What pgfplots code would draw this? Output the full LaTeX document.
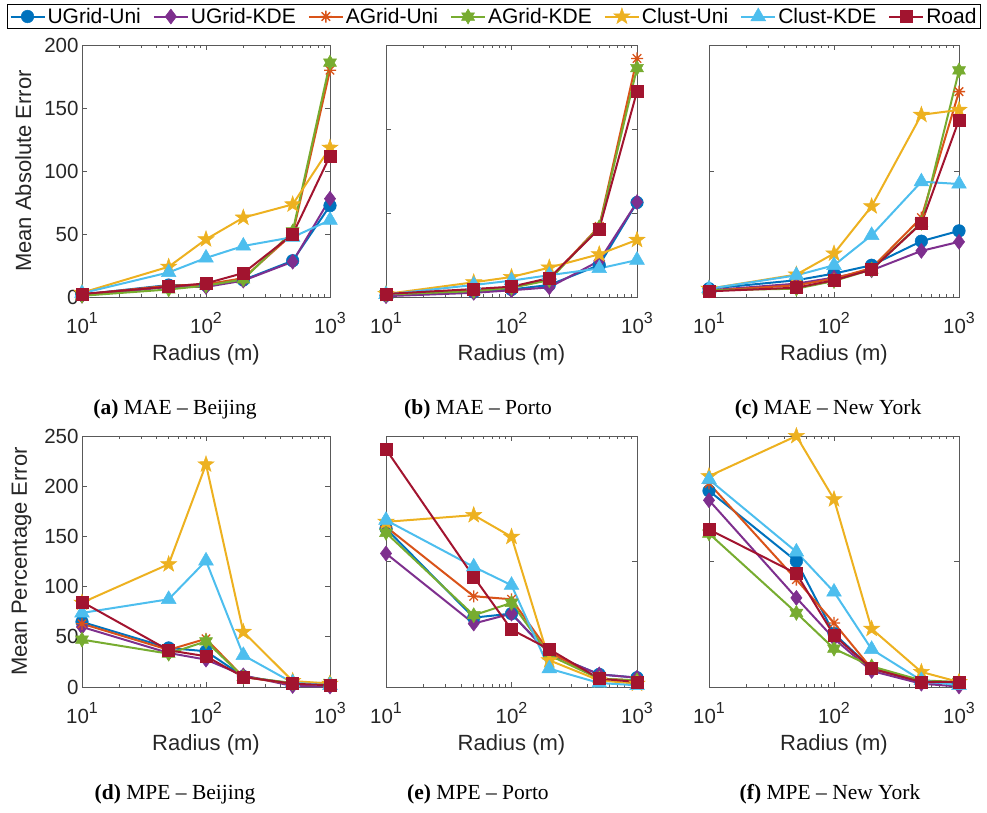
\documentclass[border=0pt]{standalone}
\usepackage{fontspec}
\setmainfont{Liberation Sans}
\newfontfamily\capfamily[Ligatures=TeX]{Liberation Serif}
\usepackage{pgfplots}
\pgfplotsset{compat=1.18}
\definecolor{c1}{rgb}{0,0.447,0.741}
\definecolor{c2}{rgb}{0.494,0.184,0.556}
\definecolor{c3}{rgb}{0.85,0.325,0.098}
\definecolor{c4}{rgb}{0.466,0.674,0.188}
\definecolor{c5}{rgb}{0.929,0.694,0.125}
\definecolor{c6}{rgb}{0.301,0.745,0.933}
\definecolor{c7}{rgb}{0.635,0.078,0.184}
\definecolor{axgray}{rgb}{0.35,0.35,0.35}
\definecolor{txt}{rgb}{0.15,0.15,0.15}
\pgfdeclareplotmark{penta}{%
  \pgfpathmoveto{\pgfpointpolar{90}{\pgfplotmarksize}}%
  \pgfpathlineto{\pgfpointpolar{126}{0.40\pgfplotmarksize}}%
  \pgfpathlineto{\pgfpointpolar{162}{\pgfplotmarksize}}%
  \pgfpathlineto{\pgfpointpolar{198}{0.40\pgfplotmarksize}}%
  \pgfpathlineto{\pgfpointpolar{234}{\pgfplotmarksize}}%
  \pgfpathlineto{\pgfpointpolar{270}{0.40\pgfplotmarksize}}%
  \pgfpathlineto{\pgfpointpolar{306}{\pgfplotmarksize}}%
  \pgfpathlineto{\pgfpointpolar{342}{0.40\pgfplotmarksize}}%
  \pgfpathlineto{\pgfpointpolar{18}{\pgfplotmarksize}}%
  \pgfpathlineto{\pgfpointpolar{54}{0.40\pgfplotmarksize}}%
  \pgfpathclose\pgfusepathqfillstroke}
\pgfdeclareplotmark{hexa}{%
  \pgfpathmoveto{\pgfpointpolar{90}{\pgfplotmarksize}}%
  \pgfpathlineto{\pgfpointpolar{120}{0.577\pgfplotmarksize}}%
  \pgfpathlineto{\pgfpointpolar{150}{\pgfplotmarksize}}%
  \pgfpathlineto{\pgfpointpolar{180}{0.577\pgfplotmarksize}}%
  \pgfpathlineto{\pgfpointpolar{210}{\pgfplotmarksize}}%
  \pgfpathlineto{\pgfpointpolar{240}{0.577\pgfplotmarksize}}%
  \pgfpathlineto{\pgfpointpolar{270}{\pgfplotmarksize}}%
  \pgfpathlineto{\pgfpointpolar{300}{0.577\pgfplotmarksize}}%
  \pgfpathlineto{\pgfpointpolar{330}{\pgfplotmarksize}}%
  \pgfpathlineto{\pgfpointpolar{0}{0.577\pgfplotmarksize}}%
  \pgfpathlineto{\pgfpointpolar{30}{\pgfplotmarksize}}%
  \pgfpathlineto{\pgfpointpolar{60}{0.577\pgfplotmarksize}}%
  \pgfpathclose\pgfusepathqfillstroke}
\pgfdeclareplotmark{asteight}{%
  \pgfpathmoveto{\pgfpointpolar{0}{\pgfplotmarksize}}\pgfpathlineto{\pgfpointpolar{180}{\pgfplotmarksize}}%
  \pgfpathmoveto{\pgfpointpolar{45}{\pgfplotmarksize}}\pgfpathlineto{\pgfpointpolar{225}{\pgfplotmarksize}}%
  \pgfpathmoveto{\pgfpointpolar{90}{\pgfplotmarksize}}\pgfpathlineto{\pgfpointpolar{270}{\pgfplotmarksize}}%
  \pgfpathmoveto{\pgfpointpolar{135}{\pgfplotmarksize}}\pgfpathlineto{\pgfpointpolar{315}{\pgfplotmarksize}}%
  \pgfusepathqstroke}
\newcommand\ex[1]{10\raisebox{9.5pt}{\fontsize{16}{16}\selectfont #1}}
\pgfplotsset{
  every axis/.append style={
    scale only axis, clip=false,
    xmode=log, xmin=10, xmax=1000, xtick={10,100,1000},
    xticklabels={\ex1,\ex2,\ex3},
    minor xtick={20,30,40,50,60,70,80,90,200,300,400,500,600,700,800,900},
    ymin=0,
    axis line style={draw=axgray, line width=0.8pt},
    tick style={draw=axgray, line width=0.8pt},
    major tick length=5pt, minor tick length=3pt, tick align=inside,
    tick label style={font=\fontsize{20.5}{24}\selectfont, text=txt},
    xticklabel style={yshift=-12pt},
    /pgf/number format/assume math mode=true,
    label style={font=\fontsize{22}{26}\selectfont, text=txt},
    xlabel style={yshift=-4pt},
    ylabel style={yshift=6pt},
    xlabel={Radius (m)},
  },
  every axis plot/.append style={line width=2pt,
    legend image code/.code={\draw[mark repeat=2,mark phase=2] plot coordinates {(0pt,0pt) (17pt,0pt) (34pt,0pt)};}},
  s1/.style={color=c1, mark=*, mark size=6.3pt, mark options={solid, line width=0.5pt}},
  s2/.style={color=c2, mark=diamond*, mark size=7.5pt, mark options={solid, line width=0.5pt}},
  s3/.style={color=c3, mark=asteight, mark size=6pt, mark options={solid, line width=1.3pt}},
  s4/.style={color=c4, mark=hexa, mark size=7.5pt, mark options={solid, line width=0.5pt}},
  s5/.style={color=c5, mark=penta, mark size=8.5pt, mark options={solid, line width=0.5pt}},
  s6/.style={color=c6, mark=triangle*, mark size=8.5pt, mark options={solid, line width=0.5pt}},
  s7/.style={color=c7, mark=square*, mark size=6pt, mark options={solid, line width=0.5pt}},
}
\begin{document}
\begin{tikzpicture}
\useasboundingbox (0,0) rectangle (987pt,-812pt);
% (a)
\begin{axis}[at={(82pt,-297pt)}, anchor=south west, width=248pt, height=252pt,
  ymax=200, ytick={0,50,100,150,200}, ylabel={Mean Absolute Error},
  legend columns=7,
  legend style={at={(1.6613,1.1131)}, anchor=center, draw=black, line width=0.8pt,
    font=\fontsize{21}{24}\selectfont, inner sep=2pt,
    /tikz/every even column/.append style={column sep=10pt}},
  legend cell align=left]
\addplot[s1] coordinates {(10,2) (50,9.5) (100,9.5) (200,13.5) (500,28.8) (1000,72.5)};
\addplot[s2] coordinates {(10,1) (50,8) (100,8) (200,13) (500,28) (1000,78)};
\addplot[s3] coordinates {(10,2) (50,9) (100,10) (200,15) (500,50) (1000,180)};
\addplot[s4] coordinates {(10,1) (50,6) (100,9) (200,14) (500,52) (1000,186)};
\addplot[s5] coordinates {(10,3.4) (50,24) (100,45.8) (200,63) (500,73.5) (1000,118.5)};
\addplot[s6] coordinates {(10,3) (50,19.5) (100,31) (200,40.5) (500,47.5) (1000,61)};
\addplot[s7] coordinates {(10,2.4) (50,8.2) (100,10.8) (200,19) (500,49.7) (1000,112)};
\legend{UGrid-Uni,UGrid-KDE,AGrid-Uni,AGrid-KDE,Clust-Uni,Clust-KDE,Road}
\end{axis}
% (b)
\begin{axis}[at={(386pt,-297pt)}, anchor=south west, width=251pt, height=252pt,
  ymax=300, ytick={100,200}, yticklabels={}]
\addplot[s1] coordinates {(10,2) (50,6) (100,9) (200,14.3) (500,38) (1000,112.5)};
\addplot[s2] coordinates {(10,1) (50,5) (100,8) (200,11.5) (500,43) (1000,113)};
\addplot[s3] coordinates {(10,3.6) (50,7.5) (100,11.5) (200,21) (500,84) (1000,284)};
\addplot[s4] coordinates {(10,3) (50,7) (100,11) (200,20) (500,83) (1000,272.6)};
\addplot[s5] coordinates {(10,3.6) (50,17.5) (100,23.8) (200,35) (500,50.9) (1000,68)};
\addplot[s6] coordinates {(10,3) (50,14.3) (100,19.5) (200,26) (500,34) (1000,44)};
\addplot[s7] coordinates {(10,3.6) (50,9.5) (100,12.3) (200,22.6) (500,81) (1000,244.8)};
\end{axis}
% (c)
\begin{axis}[at={(709pt,-297pt)}, anchor=south west, width=250pt, height=252pt,
  ymax=200, ytick={100}, yticklabels={}]
\addplot[s1] coordinates {(10,6.6) (50,13.3) (100,18.6) (200,25.2) (500,44.3) (1000,52.5)};
\addplot[s2] coordinates {(10,5.3) (50,10.6) (100,15.4) (200,21.2) (500,36.6) (1000,43.8)};
\addplot[s3] coordinates {(10,5) (50,9.3) (100,14.6) (200,23) (500,63) (1000,163)};
\addplot[s4] coordinates {(10,5.3) (50,6.6) (100,12.7) (200,21.8) (500,58.9) (1000,179.8)};
\addplot[s5] coordinates {(10,6.6) (50,17.8) (100,34.5) (200,72) (500,144.6) (1000,148.5)};
\addplot[s6] coordinates {(10,6.6) (50,17.2) (100,25.2) (200,49) (500,91.5) (1000,89.7)};
\addplot[s7] coordinates {(10,4.5) (50,7.4) (100,13.3) (200,21.8) (500,58.4) (1000,140.6)};
\end{axis}
% (d)
\begin{axis}[at={(82pt,-687pt)}, anchor=south west, width=248pt, height=251pt,
  ymax=250, ytick={0,50,100,150,200,250}, ylabel={Mean Percentage Error}]
\addplot[s1] coordinates {(10,64.8) (50,38.9) (100,35.6) (200,10.6) (500,3.3) (1000,1.7)};
\addplot[s2] coordinates {(10,59.8) (50,33.9) (100,27.3) (200,11.6) (500,1) (1000,0.5)};
\addplot[s3] coordinates {(10,63) (50,37) (100,48) (200,10) (500,3) (1000,2.7)};
\addplot[s4] coordinates {(10,47.2) (50,33.2) (100,45.5) (200,10) (500,4) (1000,4)};
\addplot[s5] coordinates {(10,84) (50,122.3) (100,221.7) (200,54.9) (500,6) (1000,3.3)};
\addplot[s6] coordinates {(10,73.8) (50,87.4) (100,125.7) (200,31.6) (500,4.3) (1000,1.7)};
\addplot[s7] coordinates {(10,84.8) (50,36.6) (100,30.6) (200,10) (500,3.3) (1000,1.7)};
\end{axis}
% (e)
\begin{axis}[at={(386pt,-687pt)}, anchor=south west, width=251pt, height=251pt,
  ymax=250, ytick={125}, yticklabels={}]
\addplot[s1] coordinates {(10,157.9) (50,69.1) (100,73.1) (200,33.2) (500,12.6) (1000,9.3)};
\addplot[s2] coordinates {(10,133) (50,63.2) (100,73.1) (200,33.2) (500,12.6) (1000,9.3)};
\addplot[s3] coordinates {(10,159.6) (50,90.4) (100,87.4) (200,34.9) (500,8.3) (1000,6.6)};
\addplot[s4] coordinates {(10,153.6) (50,71.5) (100,83.8) (200,31.6) (500,8.3) (1000,6.6)};
\addplot[s5] coordinates {(10,164.5) (50,171.2) (100,149.6) (200,26.6) (500,6.6) (1000,3.3)};
\addplot[s6] coordinates {(10,166.2) (50,119.7) (100,101.4) (200,18.3) (500,4) (1000,1.7)};
\addplot[s7] coordinates {(10,236.7) (50,109.7) (100,57.2) (200,37.6) (500,8.3) (1000,5)};
\end{axis}
% (f)
\begin{axis}[at={(709pt,-687pt)}, anchor=south west, width=250pt, height=251pt,
  ymax=250, ytick={125}, yticklabels={}]
\addplot[s1] coordinates {(10,195.4) (50,125.3) (100,53.2) (200,18.3) (500,5) (1000,3.3)};
\addplot[s2] coordinates {(10,186) (50,88.8) (100,48.2) (200,16) (500,3.3) (1000,0.5)};
\addplot[s3] coordinates {(10,202.8) (50,107) (100,63.8) (200,18.3) (500,6) (1000,4)};
\addplot[s4] coordinates {(10,152.9) (50,73.8) (100,38.2) (200,20.6) (500,6.6) (1000,5)};
\addplot[s5] coordinates {(10,210) (50,250) (100,187) (200,58) (500,15) (1000,5)};
\addplot[s6] coordinates {(10,206.7) (50,134.6) (100,94.7) (200,37.6) (500,6.6) (1000,1.7)};
\addplot[s7] coordinates {(10,156.9) (50,113) (100,51.5) (200,18.3) (500,5) (1000,5)};
\end{axis}
% captions
\begin{scope}[every node/.style={anchor=base, font=\capfamily\fontsize{21.5}{25}\selectfont}]
\node at (175pt,-414pt) {\textbf{(a)} MAE – Beijing};
\node at (478pt,-414pt) {\textbf{(b)} MAE – Porto};
\node at (828pt,-414pt) {\textbf{(c)} MAE – New York};
\node at (175pt,-799pt) {\textbf{(d)} MPE – Beijing};
\node at (478pt,-799pt) {\textbf{(e)} MPE – Porto};
\node at (830pt,-799pt) {\textbf{(f)} MPE – New York};
\end{scope}
\end{tikzpicture}
\end{document}
